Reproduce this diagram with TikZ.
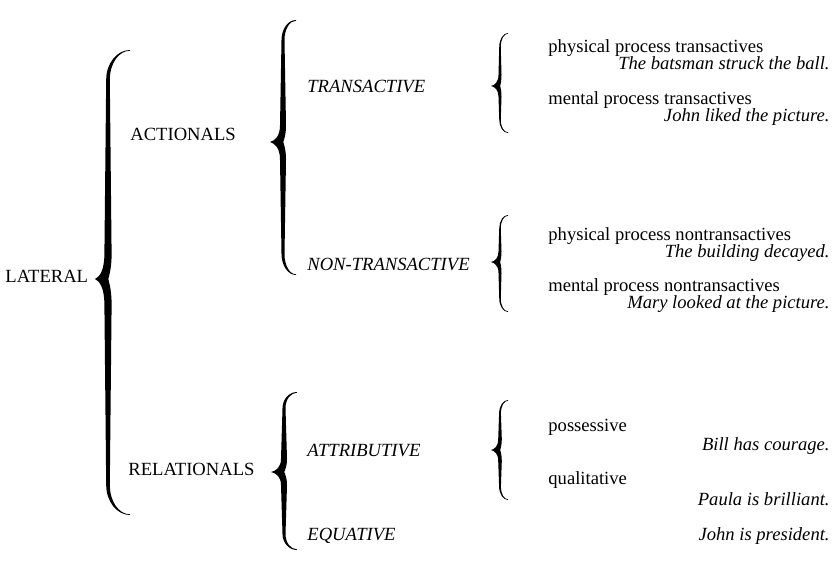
\documentclass[tikz,border=0pt]{standalone}
\usepackage{fontspec}
\setmainfont{Liberation Serif}

% Calligraphic left-pointing brace, filled.
% #1 tip x, #2 spine x, #3 end x, #4 top y, #5 tip y, #6 bottom y, #7 half width
\newcommand{\calbrace}[7]{%
  \pgfmathsetmacro\cbTx{#1}\pgfmathsetmacro\cbS{#2}\pgfmathsetmacro\cbE{#3}%
  \pgfmathsetmacro\cbTa{#4}\pgfmathsetmacro\cbTm{#5}\pgfmathsetmacro\cbTb{#6}%
  \pgfmathsetmacro\cbW{#7}%
  \pgfmathsetmacro\cbL{\cbS-0.5*\cbW}\pgfmathsetmacro\cbR{\cbS+0.5*\cbW}%
  \pgfmathsetmacro\cbLL{\cbS-\cbW}\pgfmathsetmacro\cbRR{\cbS+\cbW}%
  \pgfmathsetmacro\cbHa{min(9+0.09*(\cbTm-\cbTa),30)}%
  \pgfmathsetmacro\cbHb{min(9+0.09*(\cbTb-\cbTm),30)}%
  \pgfmathsetmacro\cbKa{min(7+0.08*(\cbTm-\cbTa),26)}%
  \pgfmathsetmacro\cbKb{min(7+0.08*(\cbTb-\cbTm),26)}%
  \fill (\cbE,\cbTa)
    .. controls ({\cbE-0.55*(\cbE-\cbL)},\cbTa) and (\cbL,{\cbTa+0.45*\cbHa}) .. (\cbL,{\cbTa+\cbHa})
    -- (\cbLL,{\cbTm-\cbKa})
    .. controls (\cbLL,{\cbTm-0.35*\cbKa}) and ({\cbTx+0.5*(\cbLL-\cbTx)},{\cbTm-0.08*\cbKa}) .. (\cbTx,\cbTm)
    .. controls ({\cbTx+0.5*(\cbLL-\cbTx)},{\cbTm+0.08*\cbKb}) and (\cbLL,{\cbTm+0.35*\cbKb}) .. (\cbLL,{\cbTm+\cbKb})
    -- (\cbL,{\cbTb-\cbHb})
    .. controls (\cbL,{\cbTb-0.45*\cbHb}) and ({\cbE-0.55*(\cbE-\cbL)},\cbTb) .. (\cbE,\cbTb)
    -- (\cbE,{\cbTb-0.7})
    .. controls ({\cbE-0.55*(\cbE-\cbR)},{\cbTb-0.7}) and (\cbR,{\cbTb-0.45*\cbHb}) .. (\cbR,{\cbTb-\cbHb})
    -- (\cbRR,{\cbTm+\cbKb})
    .. controls (\cbRR,{\cbTm+0.4*\cbKb}) and ({\cbS+0.3*\cbW},{\cbTm+0.15*\cbKb}) .. ({\cbS+0.1*\cbW},\cbTm)
    .. controls ({\cbS+0.3*\cbW},{\cbTm-0.15*\cbKa}) and (\cbRR,{\cbTm-0.4*\cbKa}) .. (\cbRR,{\cbTm-\cbKa})
    -- (\cbR,{\cbTa+\cbHa})
    .. controls (\cbR,{\cbTa+0.45*\cbHa}) and ({\cbE-0.55*(\cbE-\cbR)},{\cbTa+0.7}) .. (\cbE,{\cbTa+0.7})
    -- cycle;
}

\tikzset{
  lbl/.style={inner sep=0pt, font=\fontsize{9.3}{11}\selectfont},
  head/.style={lbl, anchor=base west},
  cat/.style={lbl, anchor=base west, font=\fontsize{9.3}{11}\selectfont\itshape},
  sub/.style={lbl, anchor=base west},
  ex/.style={lbl, anchor=base east, font=\fontsize{9.3}{11}\selectfont\itshape},
}

\begin{document}
\begin{tikzpicture}[x=0.5pt, y=-0.5pt]
  \useasboundingbox (0,0) rectangle (839,570);

  % first level
  \node[head] (lateral) at (5,282) {LATERAL};
  \calbrace{95}{108}{130}{50}{279}{515}{3.6}

  % second level
  \node[head] (actionals)   at (130,140) {ACTIONALS};
  \node[head] (relationals) at (128,475) {RELATIONALS};
  \calbrace{270}{283}{296}{20}{142}{275}{3}
  \calbrace{271}{284}{297}{392}{472}{550}{3}

  % third level
  \node[cat] (trans)    at (307,92)  {TRANSACTIVE};
  \node[cat] (nontrans) at (307,270) {NON-TRANSACTIVE};
  \node[cat] (attrib)   at (307,456) {ATTRIBUTIVE};
  \node[cat] (equat)    at (307,540) {EQUATIVE};
  \calbrace{491}{500}{508}{33}{86}{133}{1.5}
  \calbrace{491}{500}{508}{215}{262}{312}{1.5}
  \calbrace{491}{500}{508}{400}{450}{500}{1.8}

  % fourth level with examples
  \node[sub] (ppt)  at (548,52)  {physical process transactives};
  \node[ex]  (ppte) at (830,69)  {The batsman struck the ball.};
  \node[sub] (mpt)  at (548,104) {mental process transactives};
  \node[ex]  (mpte) at (830,121) {John liked the picture.};

  \node[sub] (ppn)  at (548,240) {physical process nontransactives};
  \node[ex]  (ppne) at (830,257) {The building decayed.};
  \node[sub] (mpn)  at (548,291) {mental process nontransactives};
  \node[ex]  (mpne) at (830,308) {Mary looked at the picture.};

  \node[sub] (poss)  at (548,431) {possessive};
  \node[ex]  (posse) at (830,450) {Bill has courage.};
  \node[sub] (qual)  at (548,484) {qualitative};
  \node[ex]  (quale) at (830,505) {Paula is brilliant.};
  \node[ex]  (equae) at (830,540) {John is president.};
\end{tikzpicture}
\end{document}
